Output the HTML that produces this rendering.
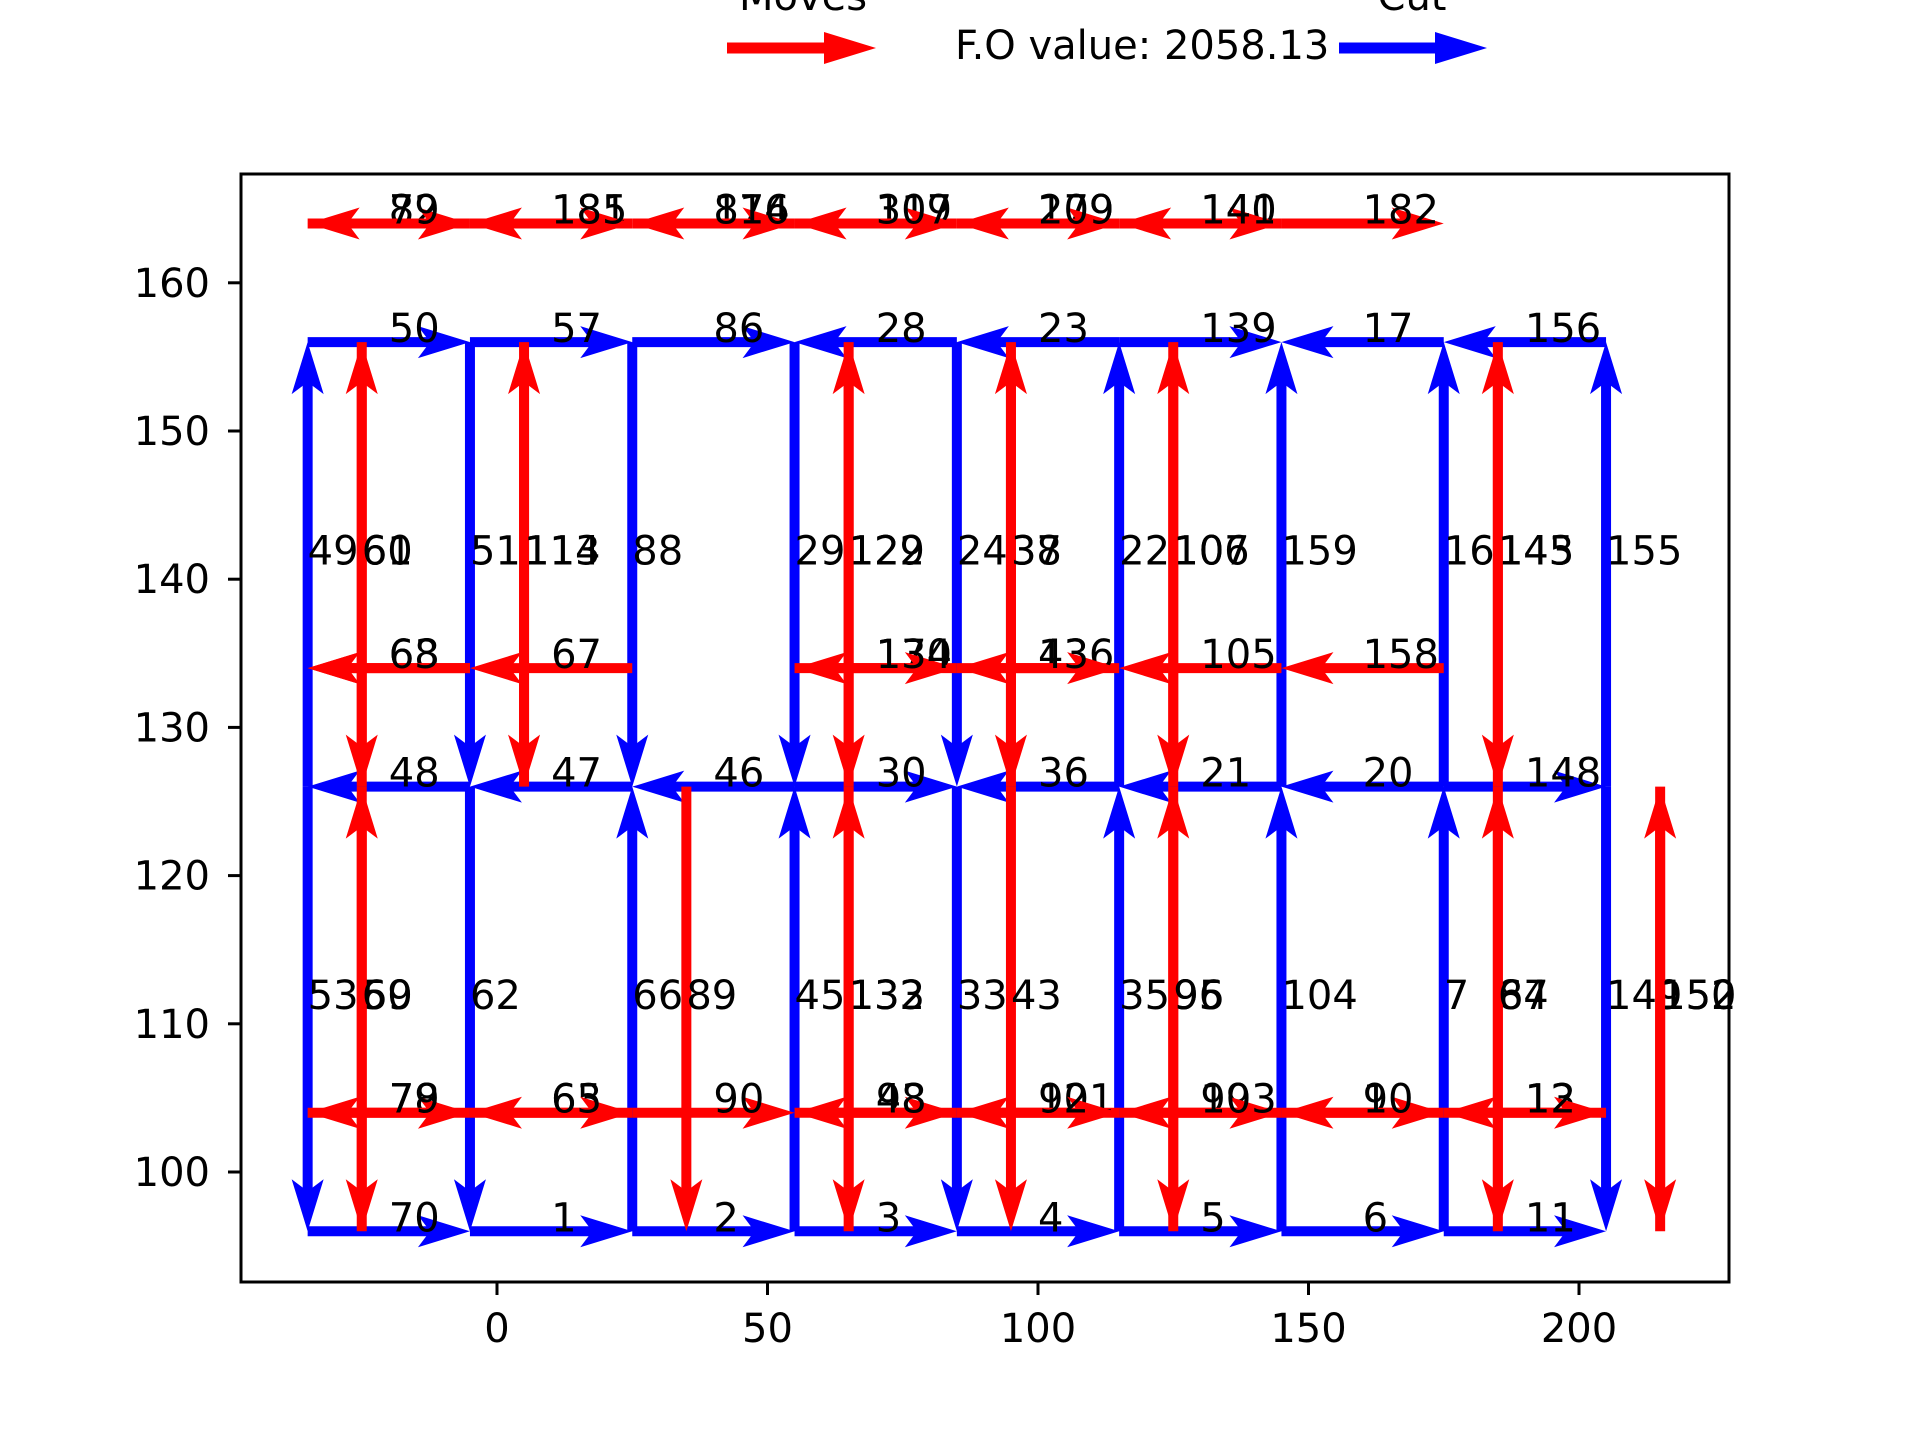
<!DOCTYPE html>
<html><head><meta charset="utf-8"><style>
html,body{margin:0;padding:0;background:#fff;}
svg{display:block;font-family:"DejaVu Sans","Liberation Sans",sans-serif;}
</style></head><body>
<svg id="chart" width="1920" height="1440" viewBox="0 0 1920 1440"></svg>
<script>
// ---- data ----
const xTicks = [0, 50, 100, 150, 200];
const yTicks = [100, 110, 120, 130, 140, 150, 160];
// cut segments: [x1, y1, x2, y2, label]
const cutSegments = [
  [-35,156,-5,156,"50"],[-5,156,25,156,"57"],[25,156,55,156,"86"],[85,156,55,156,"28"],
  [115,156,85,156,"23"],[115,156,145,156,"139"],[175,156,145,156,"17"],[205,156,175,156,"156"],
  [-5,126,-35,126,"48"],[25,126,-5,126,"47"],[55,126,25,126,"46"],[55,126,85,126,"30"],
  [115,126,85,126,"36"],[145,126,115,126,"21"],[175,126,145,126,"20"],[175,126,205,126,"148"],
  [-35,96,-5,96,"70"],[-5,96,25,96,"1"],[25,96,55,96,"2"],[55,96,85,96,"3"],
  [85,96,115,96,"4"],[115,96,145,96,"5"],[145,96,175,96,"6"],[175,96,205,96,"11"],
  [-35,126,-35,156,"49"],[-5,156,-5,126,"51"],[25,156,25,126,"88"],[55,156,55,126,"29"],
  [85,156,85,126,"24"],[115,126,115,156,"22"],[145,126,145,156,"159"],[175,126,175,156,"16"],[205,126,205,156,"155"],
  [-35,126,-35,96,"53"],[-5,126,-5,96,"62"],[25,96,25,126,"66"],[55,96,55,126,"45"],
  [85,126,85,96,"33"],[115,96,115,126,"35"],[145,96,145,126,"104"],[175,96,175,126,"7"],[205,126,205,96,"149"]
];
// move segments: [x1, y1, x2, y2, label]
const moveSegments = [
  [-5,164,-35,164,"82"],[-35,164,-5,164,"79"],[25,164,-5,164,"181"],[-5,164,25,164,"185"],
  [55,164,25,164,"174"],[25,164,55,164,"816"],[85,164,55,164,"119"],[55,164,85,164,"307"],
  [115,164,85,164,"179"],[85,164,115,164,"209"],[145,164,115,164,"140"],[115,164,145,164,"141"],
  [145,164,175,164,"182"],
  [-5,134,-35,134,"68"],[-5,134,-35,134,"63"],[25,134,-5,134,"67"],[85,134,55,134,"170"],[55,134,85,134,"134"],
  [115,134,85,134,"136"],[85,134,115,134,"43"],[145,134,115,134,"105"],[175,134,145,134,"158"],
  [-5,104,-35,104,"78"],[-35,104,-5,104,"79"],[25,104,-5,104,"65"],[-5,104,25,104,"63"],
  [25,104,55,104,"90"],[85,104,55,104,"93"],[55,104,85,104,"48"],[115,104,85,104,"101"],[85,104,115,104,"92"],
  [145,104,115,104,"99"],[115,104,145,104,"103"],[175,104,145,104,"9"],[145,104,175,104,"10"],
  [205,104,175,104,"13"],[175,104,205,104,"12"],
  [-25,126,-25,156,"60"],[-25,156,-25,126,"61"],[5,126,5,156,"114"],[5,156,5,126,"113"],
  [65,126,65,156,"129"],[65,156,65,126,"122"],[95,126,95,156,"38"],[95,156,95,126,"37"],
  [125,126,125,156,"107"],[125,156,125,126,"106"],[185,126,185,156,"143"],[185,156,185,126,"145"],
  [-25,96,-25,126,"59"],[-25,126,-25,96,"60"],[35,126,35,96,"89"],[65,96,65,126,"132"],[65,126,65,96,"133"],
  [95,126,95,96,"43"],[125,96,125,126,"95"],[125,126,125,96,"96"],[185,96,185,126,"84"],[185,126,185,96,"67"],
  [215,96,215,126,"150"],[215,126,215,96,"152"]
];
// ---- axes ----
const X0 = 497, XS = 5.41, Y0 = 1172, YS = 14.82;
function sx(v){ return X0 + v*XS; }
function sy(v){ return Y0 - (v-100)*YS; }
const NS = "http://www.w3.org/2000/svg";
const svg = document.getElementById('chart');
function mk(tag, attrs, parent){
  const e = document.createElementNS(NS, tag);
  for (const k in attrs) e.setAttribute(k, attrs[k]);
  (parent||svg).appendChild(e);
  return e;
}
const plot = mk('g', {});



function arrow(seg, color, grp){
  const [a,b,c,d,label] = seg;
  const x1=sx(a), y1=sy(b), x2=sx(c), y2=sy(d);
  const dx=x2-x1, dy=y2-y1, L=Math.hypot(dx,dy), ux=dx/L, uy=dy/L;
  const HL=52, HW=16;
  const bx=x2-ux*HL, by=y2-uy*HL;
  const g = mk('g', {}, grp);
  
  
  mk('line', {x1:x1, y1:y1, x2:x2-ux*20, y2:y2-uy*20, stroke:color, 'stroke-width':10}, g);
  mk('polygon', {points:`${x2},${y2} ${bx-uy*HW},${by+ux*HW} ${bx+ux*12},${by+uy*12} ${bx+uy*HW},${by-ux*HW}`, fill:color}, g);
  const t = mk('text', {x:sx((a+c)/2), y:sy((b+d)/2), 'font-size':40, fill:'#000'}, g);
  t.textContent = label;
  
  
}
const cutG = mk('g', {}, plot);


cutSegments.forEach(s => arrow(s, '#0000ff', cutG));
const moveG = mk('g', {}, plot);


moveSegments.forEach(s => arrow(s, '#ff0000', moveG));

// frame
const frame = mk('rect', {x:241, y:174, width:1488, height:1108, fill:'none', stroke:'#000', 'stroke-width':3});


const xAxis = mk('g', {});


xTicks.forEach(v => {
  mk('line', {x1:sx(v), y1:1282, x2:sx(v), y2:1295, stroke:'#000', 'stroke-width':3}, xAxis);
  const t = mk('text', {x:sx(v), y:1342, 'font-size':40, 'text-anchor':'middle'}, xAxis);
  t.textContent = v;
  
  
});
const yAxis = mk('g', {});


yTicks.forEach(v => {
  mk('line', {x1:228, y1:sy(v), x2:241, y2:sy(v), stroke:'#000', 'stroke-width':3}, yAxis);
  const t = mk('text', {x:210, y:sy(v)+14, 'font-size':40, 'text-anchor':'end'}, yAxis);
  t.textContent = v;
  
  
});
</script>
<svg width="1920" height="120" style="position:absolute;left:0;top:0">
  <text x="803" y="10" font-size="40" text-anchor="middle">Moves</text>
  <g>
    <line x1="727" y1="48" x2="845" y2="48" stroke="#ff0000" stroke-width="11"/>
    <polygon points="876,48 824,32 824,64" fill="#ff0000"/>
  </g>
  <text x="955" y="59" font-size="40">F.O value: 2058.13</text>
  <text x="1412" y="10" font-size="40" text-anchor="middle">Cut</text>
  <g>
    <line x1="1339" y1="48" x2="1456" y2="48" stroke="#0000ff" stroke-width="11"/>
    <polygon points="1487,48 1435,32 1435,64" fill="#0000ff"/>
  </g>
</svg>
</body></html>
